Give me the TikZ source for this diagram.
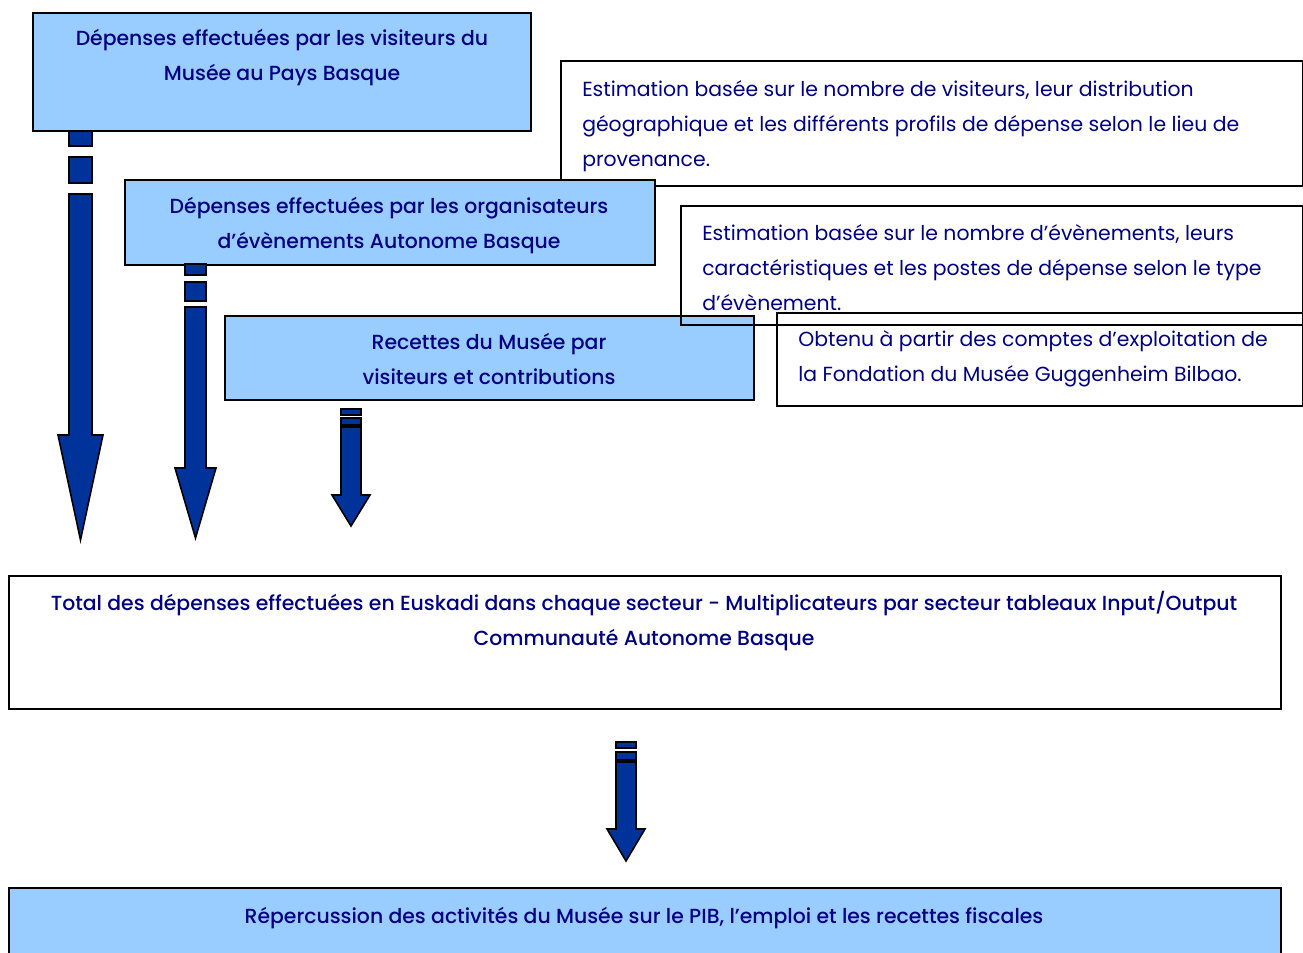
\documentclass[tikz,border=0pt]{standalone}
\usepackage{fontspec}
\setmainfont{Poppins}
\newfontfamily\medfont{Poppins Medium}
\definecolor{boxblue}{HTML}{99CCFF}
\definecolor{arrowblue}{HTML}{003399}
\definecolor{textnavy}{HTML}{000080}
\begin{document}
\begin{tikzpicture}[x=0.75pt,y=-0.75pt,
	box/.style={draw=black,line width=1.5pt,anchor=north west,inner sep=0pt},
	blue box/.style={box,fill=boxblue},
	white box/.style={box,fill=white},
	title text/.style={text=textnavy,font=\medfont\fontsize{15.3}{25.9}\selectfont,align=center,anchor=base,inner sep=0pt},
	note text/.style={text=textnavy,font=\fontsize{15.3}{25.9}\selectfont,align=left,anchor=base west,inner sep=0pt},
	block arrow/.style={draw=black,fill=arrowblue,line width=1.2pt,line join=miter}]

	\useasboundingbox (0,0) rectangle (1303,953);

	% the source boxes (text nodes sit on the baseline of their last line)
	\node[blue box,minimum width=498*0.75pt,minimum height=118*0.75pt] (visiteurs) at (32,12) {};
	\node[title text] (visiteursText) at (282,80) {Dépenses effectuées par les visiteurs du\\Musée au Pays Basque};

	\node[white box,minimum width=742*0.75pt,minimum height=125*0.75pt] (estimVisiteurs) at (560,60) {};
	\node[note text] (estimVisiteursText) at (582,166) {Estimation basée sur le nombre de visiteurs, leur distribution\\géographique et les différents profils de dépense selon le lieu de\\provenance.};

	\node[blue box,minimum width=530*0.75pt,minimum height=85*0.75pt] (organisateurs) at (124,179) {};
	\node[title text] (organisateursText) at (389,248) {Dépenses effectuées par les organisateurs\\d’évènements Autonome Basque};

	\node[blue box,minimum width=529*0.75pt,minimum height=84*0.75pt] (recettes) at (224,315) {};
	\node[title text] (recettesText) at (489,384) {Recettes du Musée par\\visiteurs et contributions};

	\node[white box,minimum width=526*0.75pt,minimum height=93*0.75pt] (obtenu) at (776,312) {};
	\node[note text] (obtenuText) at (798,381) {Obtenu à partir des comptes d’exploitation de\\la Fondation du Musée Guggenheim Bilbao.};

	\node[box,minimum width=622*0.75pt,minimum height=119*0.75pt] (estimEvenements) at (680,205) {};
	\node[note text] (estimEvenementsText) at (702,310) {Estimation basée sur le nombre d’évènements, leurs\\caractéristiques et les postes de dépense selon le type\\d’évènement.};

	% striped arrows
	\draw[block arrow] (69,131) rectangle (92,146);
	\draw[block arrow] (69,157) rectangle (92,183);
	\draw[block arrow] (69,194) -- (92,194) -- (92,435) -- (103,435) -- (80.5,540) -- (58,435) -- (69,435) -- cycle;

	\draw[block arrow] (185,264) rectangle (206,275);
	\draw[block arrow] (185,282) rectangle (206,301);
	\draw[block arrow] (185,307) -- (206,307) -- (206,468) -- (216,468) -- (195.5,538) -- (175,468) -- (185,468) -- cycle;

	\draw[block arrow] (341,409) rectangle (361,415);
	\draw[block arrow] (341,418) rectangle (361,425);
	\draw[block arrow] (341,427) -- (361,427) -- (361,495) -- (370,495) -- (351,526) -- (332,495) -- (341,495) -- cycle;

	\draw[block arrow] (616,742) rectangle (636,748);
	\draw[block arrow] (616,752) rectangle (636,760);
	\draw[block arrow] (616,762) -- (636,762) -- (636,829) -- (645,829) -- (626,861) -- (607,829) -- (616,829) -- cycle;

	% result boxes
	\node[white box,minimum width=1272*0.75pt,minimum height=133*0.75pt] (total) at (8,575) {};
	\node[title text] (totalText) at (644,645) {Total des dépenses effectuées en Euskadi dans chaque secteur - Multiplicateurs par secteur tableaux Input/Output\\Communauté Autonome Basque};

	\node[blue box,minimum width=1272*0.75pt,minimum height=80*0.75pt] (repercussion) at (8,887) {};
	\node[title text] (repercussionText) at (644,923) {Répercussion des activités du Musée sur le PIB, l’emploi et les recettes fiscales};

\end{tikzpicture}
\end{document}
